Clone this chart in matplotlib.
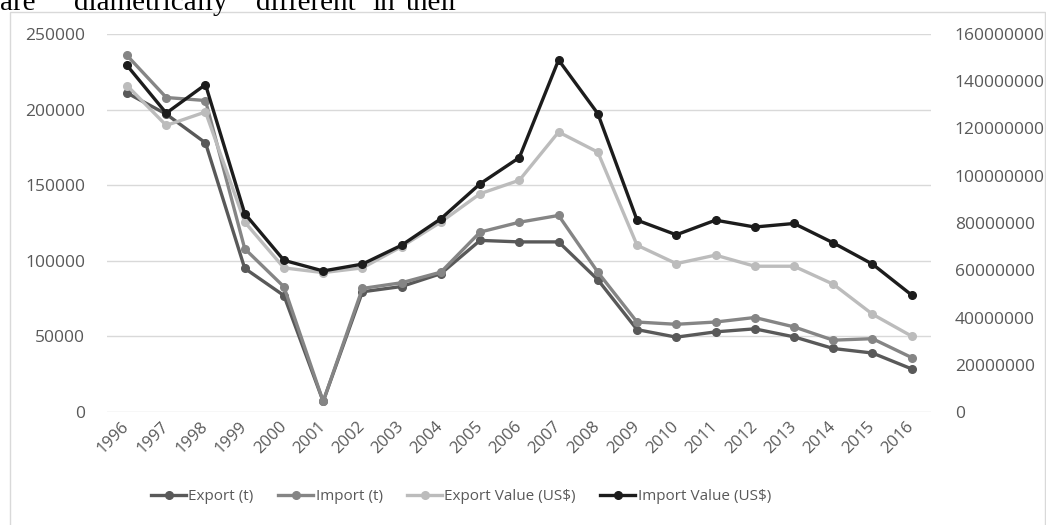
import matplotlib.pyplot as plt
from matplotlib.patches import Rectangle
from matplotlib.lines import Line2D

plt.rcParams['font.family'] = ['Open Sans', 'DejaVu Sans']

years = [str(y) for y in range(1996, 2017)]

# tonnes (left axis)
export_t = [211000, 197000, 178000, 95000, 77000, 7000, 79500, 83000, 91500, 113500,
            112500, 112500, 87500, 54500, 49500, 53000, 55000, 49700, 42000, 39000, 28500]
import_t = [235800, 208000, 206000, 108000, 82800, 7000, 81700, 85500, 92500, 119000,
            125500, 130000, 92500, 59500, 58000, 59500, 62500, 56300, 47500, 48500, 36000]

# US$ (right axis)
export_val = [138.2e6, 121.3e6, 127.0e6, 80.4e6, 61.0e6, 59.0e6, 61.0e6, 70.0e6, 80.4e6, 92.4e6,
              98.1e6, 118.5e6, 110.0e6, 70.6e6, 62.8e6, 66.4e6, 61.7e6, 61.7e6, 54.1e6, 41.4e6, 32.1e6]
import_val = [146.7e6, 126.5e6, 138.6e6, 84.0e6, 64.2e6, 59.7e6, 62.6e6, 70.6e6, 81.8e6, 96.6e6,
              107.7e6, 149.0e6, 126.3e6, 81.2e6, 75.0e6, 81.2e6, 78.3e6, 79.8e6, 71.6e6, 62.6e6, 49.5e6]

left_ticks = [0, 50000, 100000, 150000, 200000, 250000]
right_ticks = [0, 20000000, 40000000, 60000000, 80000000, 100000000,
               120000000, 140000000, 160000000]

W, H = 1046, 525
fig = plt.figure(figsize=(W / 100, H / 100), dpi=100)

# chart border and the running text above it
fig.patches.append(Rectangle((10 / W, -0.1), (W - 11) / W, 1.1 - 12 / H,
                             transform=fig.transFigure, fill=False,
                             edgecolor='#d9d9d9', linewidth=1))
words = [('are', 0), ('diametrically', 74), ('different', 256), ('in', 372), ('their', 406)]
for w, x in words:
    fig.text(x / W, 1 - 10 / H, w, fontsize=21, family='Liberation Serif',
             color='black', va='baseline', ha='left')

x = list(range(len(years)))
ax = fig.add_axes([107.4 / W, 1 - 412 / H, (931.3 - 107.4) / W, (412 - 34) / H])
ax2 = ax.twinx()

lw, ms = 2.4, 5.5
ax.plot(x, export_t, color='#595959', lw=lw, marker='o', ms=ms, label='Export (t)')
ax.plot(x, import_t, color='#858585', lw=lw, marker='o', ms=ms, label='Import (t)')
ax2.plot(x, export_val, color='#bcbcbc', lw=lw, marker='o', ms=ms, label='Export Value (US$)')
ax2.plot(x, import_val, color='#1c1c1c', lw=lw, marker='o', ms=ms, label='Import Value (US$)')

ax.set_xlim(-0.5, len(years) - 0.5)
ax.set_ylim(0, 250000)
ax2.set_ylim(0, 160000000)
ax.set_yticks(left_ticks)
ax.set_yticklabels([str(v) for v in left_ticks])
ax2.set_yticks(right_ticks)
ax2.set_yticklabels([str(v) for v in right_ticks])
ax.set_xticks(x)
ax.set_xticklabels(years, rotation=45, ha='right', va='center', rotation_mode='anchor')

ax.grid(axis='y', color='#d9d9d9', lw=1)
ax.set_axisbelow(True)
for a in (ax, ax2):
    for s in a.spines.values():
        s.set_visible(False)
ax.tick_params(axis='y', length=0, pad=16, labelsize=12.5, labelcolor='#595959')
ax2.tick_params(axis='y', length=0, pad=17, labelsize=12.5, labelcolor='#595959')
ax.tick_params(axis='x', length=0, pad=9, labelsize=12, labelcolor='#595959')

handles = ax.get_lines() + ax2.get_lines()
handles = [Line2D([], [], color=h.get_color(), lw=lw, marker='o', ms=ms) for h in handles]
labels = ['Export (t)', 'Import (t)', 'Export Value (US$)', 'Import Value (US$)']
fig.legend(handles, labels, loc='center', bbox_to_anchor=(461 / W, 1 - 497 / H),
           ncol=4, frameon=False, fontsize=11, labelcolor='#595959',
           handlelength=2.3, handletextpad=0.15, columnspacing=1.6)

fig.savefig('out.png', dpi=100)
